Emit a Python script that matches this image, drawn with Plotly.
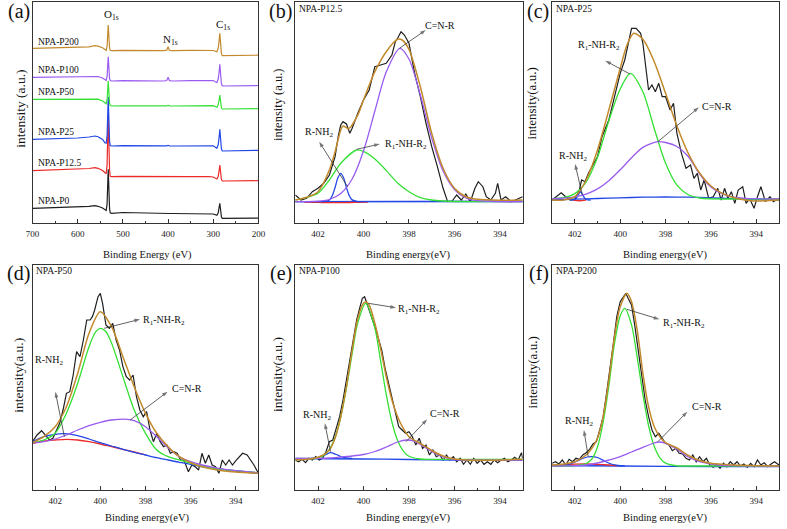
import plotly.graph_objects as go

FONT = "Liberation Serif"
W, H = 787, 529
BLACK = "#1e1e1e"
BROWN = "#c28a2c"
GREEN = "#34e034"
PURPLE = "#9a5cf0"
BLUE = "#2348e6"
RED = "#ec2a2a"
AXC = "#333333"

# ---------------- (a) survey spectra ----------------
survey_be = [700, 650, 600, 575, 562, 555, 545, 540, 537, 535, 533.5, 532.5, 531.5, 530.5, 529.5,
             528, 525, 500, 450, 410, 403, 400, 397, 390, 350, 310, 300, 292, 289, 287, 285.5,
             284.5, 283.5, 282, 280, 275, 250, 200]
survey_p200 = [174.7, 175.2, 175.7, 176.2, 177.3, 176.8, 175.2, 173.0, 172.5, 176.8, 188.0, 198.0, 190.3,
               180.0, 174.9, 172.8, 172.3, 172.6, 172.3, 172.3, 172.8, 176.3, 172.6, 172.3, 172.6, 173.0,
               172.5, 171.3, 175.0, 182.3, 189.7, 184.1, 175.1, 169.5, 167.3, 167.3, 167.3, 167.8]
survey_p100 = [145.7, 146.0, 146.3, 146.6, 147.0, 146.5, 145.0, 143.0, 142.5, 146.5, 157.0, 166.3, 159.0,
               149.3, 144.4, 142.5, 142.0, 142.3, 142.0, 142.0, 142.5, 145.7, 142.3, 142.0, 142.3, 143.0,
               142.5, 140.3, 144.0, 151.3, 158.7, 153.3, 144.6, 139.2, 137.0, 137.0, 137.0, 137.5]
survey_p50 = [123.7, 123.9, 124.0, 124.2, 124.3, 123.8, 122.0, 119.7, 119.3, 123.0, 133.1, 142.0, 134.5,
              124.5, 119.5, 117.5, 117.0, 117.2, 117.0, 117.0, 117.2, 117.7, 117.1, 117.0, 117.2, 117.7,
              117.3, 115.7, 118.2, 123.0, 128.0, 124.5, 118.9, 115.4, 114.0, 114.0, 114.0, 114.3]
survey_p25 = [83.7, 84.3, 85.0, 86.0, 87.0, 86.3, 83.5, 80.3, 79.8, 87.2, 107.9, 126.3, 111.5,
              91.8, 81.9, 77.5, 77.0, 77.3, 77.0, 77.0, 77.2, 77.7, 77.1, 77.0, 77.2, 77.7,
              77.2, 74.7, 78.5, 86.1, 93.7, 88.3, 79.6, 74.2, 72.0, 72.0, 72.0, 72.7]
survey_p12 = [52.3, 53.0, 53.8, 54.5, 55.3, 54.7, 52.5, 49.7, 49.2, 58.4, 84.7, 108.0, 89.5,
              64.8, 52.5, 46.8, 46.3, 46.6, 46.3, 46.3, 46.5, 46.7, 46.4, 46.3, 46.4, 46.3,
              46.0, 44.0, 46.8, 52.4, 58.0, 54.0, 47.6, 43.6, 42.0, 42.0, 42.0, 42.3]
survey_p0 = [14.7, 15.3, 16.0, 16.7, 17.3, 16.7, 15.0, 13.0, 12.6, 19.1, 37.4, 53.7, 40.5,
             22.9, 14.1, 10.2, 9.7, 10.5, 9.7, 9.5, 9.5, 9.5, 9.5, 9.5, 9.4, 9.3,
             9.0, 7.7, 10.1, 15.9, 19.7, 16.0, 9.9, 6.2, 4.7, 4.7, 4.7, 4.9]
survey_names = ["NPA-P200", "NPA-P100", "NPA-P50", "NPA-P25", "NPA-P12.5", "NPA-P0"]
survey_ticks = [700, 600, 500, 400, 300, 200]

# ---------------- (b) NPA-P12.5 ----------------
b_raw_be = [403, 402.75, 402.5, 402.25, 402, 401.75, 401.5, 401.25, 401.1, 401, 400.9, 400.75, 400.6,
            400.5, 400.25, 400, 399.75, 399.6, 399.5, 399.25, 399, 398.75, 398.6, 398.5, 398.35, 398.2,
            398, 397.75, 397.5, 397.25, 397, 396.75, 396.5, 396.3, 396.1, 395.9, 395.7, 395.5, 395.3,
            395.1, 394.95, 394.75, 394.6, 394.4, 394.2, 394.1, 393.95, 393.75, 393.5, 393.25, 393]
b_raw = [28.0, 23.0, 24.7, 31.3, 34.7, 39.7, 48.0, 66.3, 88.0, 98.0, 101.3, 99.0, 89.7, 94.7, 109.7,
         123.0, 133.0, 146.3, 156.3, 158.0, 159.7, 168.0, 181.3, 184.7, 191.3, 188.0, 179.7, 149.7,
         126.3, 99.7, 76.3, 56.3, 34.7, 21.3, 22.0, 28.0, 23.0, 29.0, 21.3, 34.7, 41.3, 36.3, 26.3,
         23.0, 29.7, 39.7, 23.0, 26.3, 21.3, 23.7, 26.3]
b_env_be = [403, 402.5, 402, 401.5, 401.25, 401, 400.9, 400.65, 400.25, 400, 399.5, 399, 398.5, 398.3,
            398, 397.5, 397, 396.5, 396, 395.5, 395, 394, 393]
b_env = [23.0, 25.7, 31.3, 53.0, 71.3, 93.0, 97.0, 94.3, 108.0, 123.0, 151.3, 171.3, 183.7, 183.0,
         173.7, 136.3, 89.7, 54.7, 34.7, 26.3, 23.7, 22.7, 23.0]
b_cnr_be = [403, 402.5, 402, 401.5, 401, 400.5, 400, 399.5, 399, 398.4, 398, 397.5, 397, 396.5, 396,
            395.5, 395, 394, 393]
b_cnr = [21.3, 21.4, 21.8, 23.5, 29.5, 44.0, 72.0, 112.0, 151.0, 174.7, 164.0, 128.0, 85.0, 52.0, 33.5,
         25.0, 22.3, 21.3, 21.3]
b_nh_be = [403, 402.5, 402, 401.5, 401, 400.3, 400, 399.5, 399, 398.5, 398, 397.5, 397, 396.5, 396, 395,
           394, 393]
b_nh = [23.0, 25.5, 29.7, 43.0, 59.7, 73.0, 71.6, 64.0, 52.6, 40.0, 31.2, 25.4, 23.0, 22.0, 21.5, 21.3,
        21.3, 21.3]
b_nh2_be = [403, 402, 401.75, 401.5, 401.375, 401.25, 401.125, 401, 400.875, 400.75, 400.625, 400.5,
            400.25, 400, 393]
b_nh2 = [21.3, 21.3, 21.4, 23.1, 27.3, 35.5, 45.2, 49.7, 45.2, 35.5, 27.3, 23.1, 21.4, 21.3, 21.3]
b_red_be = [402.6, 402.2, 401.8, 401.4, 401, 400.6, 400.2, 399.8]
b_red = [21.0, 20.7, 20.5, 20.4, 20.4, 20.5, 20.7, 21.0]
b_bg_be = [403, 393]
b_bg = [21.3, 21.8]

# ---------------- (c) NPA-P25 ----------------
c_raw_be = [403, 402.75, 402.6, 402.4, 402.2, 402, 401.8, 401.7, 401.55, 401.4, 401.25, 401, 400.8,
            400.5, 400.25, 400, 399.8, 399.6, 399.5, 399.3, 399.1, 399, 398.9, 398.75, 398.6, 398.45,
            398.3, 398.15, 398, 397.8, 397.65, 397.5, 397.3, 397.1, 396.9, 396.75, 396.6, 396.45, 396.3,
            396.1, 395.9, 395.7, 395.55, 395.4, 395.25, 395.1, 394.95, 394.8, 394.6, 394.45, 394.3,
            394.1, 393.95, 393.8, 393.6, 393.4, 393.25, 393]
c_raw = [23.0, 28.0, 30.3, 26.3, 23.0, 24.0, 33.0, 43.0, 41.3, 49.7, 56.3, 66.3, 86.3, 103.0, 126.3,
         149.7, 163.0, 186.3, 194.7, 194.7, 189.7, 179.7, 163.0, 133.0, 138.0, 131.3, 139.7, 126.3,
         126.3, 113.0, 119.7, 89.7, 69.7, 54.7, 58.0, 44.7, 49.7, 33.0, 43.0, 24.7, 26.3, 34.7, 23.0,
         34.7, 24.7, 31.3, 19.7, 33.0, 36.3, 19.7, 24.7, 14.7, 26.3, 36.3, 21.3, 26.3, 21.3, 24.7]
c_env_be = [403, 402.5, 402, 401.5, 401, 400.5, 400, 399.7, 399.4, 399, 398.5, 398, 397.5, 397, 396.5,
            396, 395.5, 395, 394.5, 394, 393]
c_env = [23.0, 23.0, 26.3, 43.0, 73.0, 113.0, 154.7, 178.0, 189.7, 183.7, 161.3, 129.7, 97.0, 69.7,
         50.0, 37.0, 29.7, 25.5, 23.0, 22.0, 23.0]
c_nh_be = [403, 402.5, 402, 401.5, 401, 400.5, 400, 399.55, 399, 398.5, 398, 397.5, 397, 396.5, 396,
           395, 394, 393]
c_nh = [24.2, 25.3, 29.4, 41.1, 65.7, 102.3, 134.0, 149.7, 131.2, 94.5, 59.7, 37.9, 28.2, 25.0, 24.2,
        24.0, 24.0, 24.0]
c_cnr_be = [403, 402.5, 402, 401.5, 401, 400.5, 400, 399.5, 399, 398.35, 398, 397.5, 397, 396.5, 396,
            395.5, 395, 394.5, 394, 393]
c_cnr = [24.3, 24.8, 26.1, 28.9, 34.1, 42.3, 53.2, 65.3, 75.6, 81.3, 80.5, 76.5, 66.5, 49.0, 36.0,
         29.0, 25.8, 24.7, 24.3, 24.0]
c_nh2_be = [402.2, 402.0, 401.9, 401.8, 401.75, 401.7, 401.6, 401.5, 401.3]
c_nh2 = [23.0, 23.5, 26.0, 30.0, 31.3, 30.0, 26.0, 23.5, 23.0]
c_red_be = [402.1, 401.9, 401.7, 401.5]
c_red = [22.8, 22.3, 22.3, 22.8]
c_bg_be = [403, 402, 401, 400, 399, 398, 397, 396, 395, 394, 393]
c_bg = [23.0, 23.8, 24.5, 25.2, 25.8, 26.0, 25.8, 25.2, 24.3, 23.5, 23.0]

# ---------------- (d) NPA-P50 ----------------
d_raw_be = [403, 402.8, 402.6, 402.4, 402.25, 402.1, 401.95, 401.8, 401.65, 401.5, 401.35, 401.2,
            401.05, 400.9, 400.75, 400.6, 400.45, 400.35, 400.25, 400.1, 400, 399.9, 399.75, 399.6,
            399.45, 399.3, 399.15, 399, 398.85, 398.7, 398.55, 398.4, 398.25, 398.1, 397.95, 397.8,
            397.65, 397.5, 397.35, 397.2, 397.05, 396.9, 396.75, 396.6, 396.45, 396.3, 396.1, 395.95,
            395.8, 395.65, 395.5, 395.35, 395.2, 395.05, 394.9, 394.75, 394.6, 394.45, 394.3, 394.15,
            394, 393.85, 393.7, 393.5, 393.35, 393.2, 393]
d_raw = [48.3, 55.0, 59.3, 53.3, 50.0, 51.7, 60.0, 66.7, 80.0, 96.7, 98.3, 115.0, 138.3, 133.3, 150.0,
         170.0, 170.0, 173.3, 180.0, 193.3, 196.7, 186.7, 165.0, 161.7, 166.7, 150.0, 140.0, 123.3,
         113.3, 110.0, 115.0, 93.3, 80.0, 73.3, 78.3, 60.0, 48.3, 56.7, 48.3, 43.3, 45.0, 36.7, 38.3,
         36.7, 30.0, 30.0, 18.3, 25.0, 23.3, 20.0, 36.7, 26.7, 35.0, 25.0, 23.3, 16.7, 30.0, 25.0,
         30.0, 25.0, 29.3, 33.3, 36.7, 35.0, 30.0, 25.0, 16.7]
d_env_be = [403, 402.5, 402, 401.5, 401, 400.5, 400, 399.5, 399, 398.5, 398, 397.5, 397, 396.5, 396,
            395.5, 395, 394.5, 394, 393.5, 393]
d_env = [47.3, 53.3, 63.3, 83.3, 116.7, 156.7, 178.3, 163.3, 133.3, 103.3, 76.7, 56.7, 43.3, 33.3,
         27.3, 23.3, 20.7, 19.0, 18.0, 17.3, 16.7]
d_nh_be = [403, 402.5, 402, 401.5, 401, 400.5, 400.2, 400, 399.75, 399.5, 399, 398.5, 398, 397.5, 397,
           396.5, 396, 395.5, 395, 394, 393]
d_nh = [47.3, 50.0, 56.7, 76.7, 106.7, 143.3, 158.3, 161.7, 158.3, 146.7, 113.3, 80.0, 56.7, 40.0,
        33.3, 30.0, 26.7, 24.0, 21.7, 19.3, 17.3]
d_cnr_be = [403, 402.5, 402, 401.5, 401, 400.5, 400, 399.5, 398.8, 398.5, 398, 397.5, 397, 396.5, 396,
            395.5, 395, 394, 393]
d_cnr = [46.7, 48.3, 51.0, 55.0, 60.0, 64.3, 67.7, 70.0, 70.7, 69.3, 63.3, 53.3, 42.3, 33.3, 28.3,
         25.0, 22.7, 19.3, 17.3]
d_nh2_be = [403, 402.5, 402, 401.6, 401, 400.5, 400, 399.5, 399, 398.5, 398, 397.5, 397, 396.5, 396,
            395.5, 395, 394.5, 394, 393.5, 393]
d_nh2 = [48.3, 53.3, 55.7, 56.3, 54.3, 51.0, 47.3, 44.0, 40.7, 37.7, 35.0, 32.3, 30.0, 27.7, 25.7,
         23.3, 21.7, 20.3, 19.0, 18.0, 16.7]
d_red_be = [403, 402.5, 402, 401.5, 401, 400.5, 400, 399.5, 399, 398.5, 398]
d_red = [46.7, 49.0, 50.0, 50.7, 50.0, 48.3, 46.0, 43.3, 40.7, 38.0, 35.2]

# ---------------- (e) NPA-P100 ----------------
e_raw_be = [403, 402.85, 402.7, 402.55, 402.4, 402.25, 402.1, 401.95, 401.8, 401.65, 401.5, 401.35,
            401.2, 401.05, 400.9, 400.75, 400.6, 400.45, 400.3, 400.15, 400.05, 399.95, 399.8, 399.65,
            399.5, 399.35, 399.2, 399.05, 398.9, 398.75, 398.6, 398.45, 398.3, 398.15, 398, 397.85,
            397.7, 397.55, 397.4, 397.25, 397.1, 396.95, 396.8, 396.65, 396.5, 396.35, 396.2, 396.05,
            395.9, 395.75, 395.6, 395.45, 395.3, 395.15, 395, 394.85, 394.7, 394.55, 394.4, 394.25,
            394.1, 393.95, 393.8, 393.65, 393.5, 393.35, 393.2, 393.05, 393]
e_raw = [30.0, 28.3, 30.7, 27.3, 31.7, 30.0, 33.3, 30.0, 31.7, 38.3, 48.3, 50.0, 61.7, 73.3, 90.0,
         110.0, 133.3, 153.3, 170.0, 183.3, 191.7, 193.3, 183.3, 175.0, 163.3, 151.7, 140.0, 121.7,
         106.7, 90.0, 76.7, 63.3, 60.0, 56.7, 58.3, 53.3, 45.0, 51.7, 41.7, 45.0, 35.0, 40.0, 33.3,
         35.0, 30.0, 35.0, 30.0, 33.3, 28.3, 31.7, 25.7, 30.0, 25.7, 31.7, 26.7, 30.0, 25.7, 28.3,
         25.7, 30.0, 27.3, 30.0, 31.7, 28.3, 30.0, 32.7, 30.0, 37.3, 31.7]
e_env_be = [403, 402.5, 402, 401.5, 401.25, 401, 400.75, 400.5, 400.25, 400, 399.9, 399.75, 399.5,
            399.25, 399, 398.75, 398.5, 398.25, 398, 397.5, 397, 396.5, 396, 395.5, 395, 393]
e_env = [30.0, 30.7, 32.7, 40.0, 51.7, 73.3, 103.3, 140.0, 171.7, 186.7, 188.3, 185.0, 166.7, 141.7,
         113.3, 90.0, 73.3, 61.7, 53.3, 46.5, 39.5, 34.0, 31.0, 30.0, 29.7, 30.7]
e_nh_be = [403, 402, 401.75, 401.5, 401.25, 401, 400.75, 400.5, 400.25, 399.9, 399.5, 399.25, 399,
           398.75, 398.5, 398.25, 398, 397.5, 397, 393]
e_nh = [30.7, 32.0, 34.5, 40.5, 52.4, 72.8, 102.0, 136.3, 167.4, 186.7, 161.9, 129.4, 95.6, 68.0,
        49.4, 38.9, 33.8, 31.0, 30.7, 30.7]
e_cnr_be = [403, 402, 401.5, 401, 400.5, 400, 399.5, 399, 398.5, 398.1, 397.75, 397.5, 397, 396.5,
            396, 395.5, 393]
e_cnr = [31.5, 31.7, 32.0, 33.0, 34.0, 35.5, 38.5, 43.0, 48.0, 50.0, 48.7, 45.5, 38.5, 33.0, 30.5,
         30.0, 30.0]
e_nh2_be = [402.3, 402, 401.75, 401.45, 401.2, 401, 400.75, 400.5]
e_nh2 = [31.5, 32.2, 34.5, 37.3, 35.5, 33.5, 32.0, 31.5]
e_bg_be = [403, 400, 398, 396, 393]
e_bg = [31.5, 31.0, 30.5, 30.0, 30.0]

# ---------------- (f) NPA-P200 ----------------
f_raw_be = [403, 402.85, 402.7, 402.55, 402.4, 402.25, 402.1, 401.95, 401.8, 401.65, 401.5, 401.35,
            401.2, 401.05, 400.9, 400.75, 400.6, 400.45, 400.3, 400.15, 400, 399.85, 399.75, 399.65,
            399.5, 399.35, 399.2, 399.05, 398.9, 398.75, 398.6, 398.45, 398.3, 398.15, 398, 397.85,
            397.7, 397.55, 397.4, 397.25, 397.1, 396.95, 396.8, 396.65, 396.5, 396.35, 396.2, 396.05,
            395.9, 395.75, 395.6, 395.45, 395.3, 395.15, 395, 394.85, 394.7, 394.55, 394.4, 394.25,
            394.1, 393.95, 393.8, 393.65, 393.5, 393.35, 393.2, 393]
f_raw = [26.7, 28.3, 26.0, 30.0, 25.0, 30.7, 28.3, 31.7, 30.7, 35.0, 37.3, 40.7, 46.0, 48.3, 60.0,
         73.3, 96.7, 120.0, 146.7, 173.3, 188.3, 193.3, 196.7, 191.7, 185.0, 163.3, 140.0, 115.0,
         90.0, 73.3, 60.0, 53.3, 56.7, 51.7, 46.7, 45.0, 39.3, 41.7, 36.7, 36.0, 31.7, 30.0, 35.0,
         28.3, 33.3, 28.3, 31.7, 25.0, 22.7, 25.7, 21.7, 26.7, 23.3, 28.3, 25.0, 28.3, 24.0, 26.0,
         22.7, 26.7, 23.3, 30.0, 25.0, 27.3, 23.3, 26.0, 28.3, 25.0]
f_env_be = [403, 402.5, 402, 401.5, 401.25, 401, 400.75, 400.5, 400.25, 400, 399.7, 399.5, 399.25,
            399, 398.75, 398.5, 398.25, 398, 397.5, 397, 396.5, 396, 395, 394, 393]
f_env = [25.0, 26.0, 28.3, 35.0, 41.7, 51.7, 73.3, 110.0, 153.3, 183.3, 196.7, 188.3, 160.0, 116.7,
         83.3, 63.3, 53.3, 47.3, 42.0, 34.5, 29.5, 26.7, 25.0, 24.3, 24.0]
f_nh_be = [403, 402, 401.5, 401.25, 401, 400.75, 400.5, 400.25, 400, 399.8, 399.5, 399.25, 399,
           398.75, 398.5, 398.25, 398, 397.5, 397, 393]
f_nh = [24.0, 24.4, 26.5, 31.0, 43.0, 68.0, 104.0, 146.8, 174.1, 181.7, 165.1, 132.7, 95.8, 64.5,
        43.7, 32.2, 26.9, 24.2, 24.0, 24.0]
f_cnr_be = [403, 402, 401.5, 401, 400.5, 400, 399.5, 399, 398.5, 398.3, 398, 397.5, 397, 396.5, 396,
            395.5, 395, 393]
f_cnr = [24.0, 24.3, 25.0, 27.0, 30.0, 33.3, 38.0, 42.7, 47.0, 48.0, 46.7, 40.7, 33.0, 28.3, 26.0,
         24.7, 24.3, 24.0]
f_nh2_be = [402.6, 402.2, 401.9, 401.6, 401.3, 401, 400.7, 400.4, 400.1, 399.8]
f_nh2 = [24.5, 26.0, 29.0, 32.0, 33.3, 32.5, 29.0, 26.0, 24.5, 24.0]
f_red_be = [403, 402.5, 402, 401.5, 401, 400.5, 400.1]
f_red = [24.5, 25.3, 25.8, 26.0, 25.6, 25.0, 24.3]
f_bg_be = [403, 400, 396, 393]
f_bg = [24.5, 24.0, 23.5, 23.5]

n1s_ticks = [402, 400, 398, 396, 394]

# ---------------- figure ----------------
fig = go.Figure()


def ax_names(i):
    return ("x" if i == 1 else f"x{i}"), ("y" if i == 1 else f"y{i}")


def add_line(i, x, y, color, spline=False, width=1.3):
    xa, ya = ax_names(i)
    fig.add_trace(go.Scatter(
        x=x, y=y, mode="lines", xaxis=xa, yaxis=ya, showlegend=False, hoverinfo="skip",
        line=dict(color=color, width=width, shape="spline" if spline else "linear", smoothing=0.8)))


# survey
for vals, col in [(survey_p0, BLACK), (survey_p12, RED), (survey_p25, BLUE),
                  (survey_p50, GREEN), (survey_p100, PURPLE), (survey_p200, BROWN)]:
    add_line(1, survey_be, vals, col, width=1.2)

panels = [
    (2, b_raw_be, b_raw, [(b_bg_be, b_bg, BLUE), (b_red_be, b_red, RED), (b_nh2_be, b_nh2, BLUE),
                          (b_nh_be, b_nh, GREEN), (b_cnr_be, b_cnr, PURPLE)], b_env_be, b_env),
    (3, c_raw_be, c_raw, [(c_bg_be, c_bg, BLUE), (c_red_be, c_red, RED), (c_nh2_be, c_nh2, BLUE),
                          (c_nh_be, c_nh, GREEN), (c_cnr_be, c_cnr, PURPLE)], c_env_be, c_env),
    (4, d_raw_be, d_raw, [(d_red_be, d_red, RED), (d_nh2_be, d_nh2, BLUE),
                          (d_nh_be, d_nh, GREEN), (d_cnr_be, d_cnr, PURPLE)], d_env_be, d_env),
    (5, e_raw_be, e_raw, [(e_bg_be, e_bg, BLUE), (e_nh2_be, e_nh2, BLUE),
                          (e_nh_be, e_nh, GREEN), (e_cnr_be, e_cnr, PURPLE)], e_env_be, e_env),
    (6, f_raw_be, f_raw, [(f_bg_be, f_bg, BLUE), (f_red_be, f_red, RED), (f_nh2_be, f_nh2, BLUE),
                          (f_nh_be, f_nh, GREEN), (f_cnr_be, f_cnr, PURPLE)], f_env_be, f_env),
]
for i, rx, ry, comps, ex, ey in panels:
    add_line(i, rx, ry, BLACK, width=1.2)
    for cx, cy, col in comps:
        add_line(i, cx, cy, col, spline=True, width=1.3)
    add_line(i, ex, ey, BROWN, spline=True, width=1.5)

NH2 = "R-NH<sub>2</sub>"
NHR = "R<sub>1</sub>-NH-R<sub>2</sub>"
CNR = "C=N-R"
# (axis, label, label_x, label_y, head_x, head_y, tail_x, tail_y)
labels = [
    (2, CNR, 396.62, 198.0, 397.26, 193.0, 398.42, 174.7),
    (2, NH2, 401.95, 90.5, 401.95, 81.3, 400.7, 36.3),
    (2, NHR, 398.15, 79.0, 399.28, 79.0, 400.3, 73.7),
    (3, NHR, 400.95, 178.0, 400.66, 162.3, 399.57, 149.0),
    (3, CNR, 395.74, 117.0, 396.53, 115.7, 398.34, 81.3),
    (3, NH2, 402.1, 66.3, 401.99, 59.0, 401.67, 28.0),
    (4, NHR, 397.16, 170.0, 398.24, 170.7, 399.83, 161.7),
    (4, CNR, 396.16, 101.7, 397.02, 98.3, 398.68, 70.0),
    (4, NH2, 402.28, 130.0, 401.99, 98.3, 401.59, 53.3),
    (5, NHR, 397.56, 180.7, 398.57, 182.3, 399.79, 186.7),
    (5, CNR, 396.4, 76.7, 397.2, 70.7, 398.13, 48.3),
    (5, NH2, 402.03, 75.0, 401.7, 66.7, 401.45, 38.3),
    (6, NHR, 397.18, 166.7, 398.27, 170.7, 399.71, 180.7),
    (6, CNR, 396.17, 83.3, 397.04, 78.3, 398.34, 48.3),
    (6, NH2, 401.81, 68.3, 401.6, 60.0, 401.41, 33.3),
]
# arrows drawn as thin lines with an arrow marker at the head end
for i, txt, lx, ly, hx, hy, tx, ty in labels:
    xa, ya = ax_names(i)
    fig.add_trace(go.Scatter(
        x=[tx, hx], y=[ty, hy], mode="lines+markers", xaxis=xa, yaxis=ya, showlegend=False,
        hoverinfo="skip", line=dict(color="#3a3a3a", width=0.8),
        marker=dict(symbol="arrow", size=[0, 6], angleref="previous", color="#3a3a3a",
                    line=dict(width=0))))

# layout geometry (pixels)
cols = [(26, 256), (293.5, 525), (555, 786)]
rows = [(2, 223), (265, 490)]


def xd(c):
    return [c[0] / W, c[1] / W]


def yd(r):
    return [1 - r[1] / H, 1 - r[0] / H]


layout = dict(width=W, height=H, margin=dict(l=0, r=0, t=0, b=0),
              paper_bgcolor="white", plot_bgcolor="white", showlegend=False)

tickfont = dict(family=FONT, size=9, color="#222")
for i in range(1, 7):
    r = 0 if i <= 3 else 1
    c = (i - 1) % 3
    xk = "xaxis" if i == 1 else f"xaxis{i}"
    yk = "yaxis" if i == 1 else f"yaxis{i}"
    xa, ya = ax_names(i)
    if i == 1:
        rng, tv, mdt = [700, 200], survey_ticks, 50
    else:
        rng, tv, mdt = [403, 393], n1s_ticks, 1
    layout[xk] = dict(domain=xd(cols[c]), anchor=ya, range=rng, tickvals=tv, ticks="inside",
                      ticklen=4, tickwidth=1, tickcolor=AXC, showline=True, mirror=True,
                      linecolor=AXC, linewidth=1, showgrid=False, zeroline=False, tickfont=tickfont,
                      ticklabelstandoff=2,
                      minor=dict(ticks="inside", ticklen=2, tickcolor=AXC, dtick=mdt, tick0=0,
                                 showgrid=False))
    layout[yk] = dict(domain=yd(rows[r]), anchor=xa, range=[0, 221] if r == 0 else [0, 225],
                      showticklabels=False, ticks="", showline=True, mirror=True, linecolor=AXC,
                      linewidth=1, showgrid=False, zeroline=False)

ann = []


def ptxt(xp, yp, text, size, xanchor="center", angle=0):
    ann.append(dict(x=xp / W, y=1 - yp / H, xref="paper", yref="paper", text=text, showarrow=False,
                    xanchor=xanchor, yanchor="middle", textangle=angle,
                    font=dict(family=FONT, size=size, color="#111")))


# panel letters
for txt, xr, yc in [("(a)", 25, 12), ("(b)", 292.5, 12), ("(c)", 554, 12),
                    ("(d)", 25, 273), ("(e)", 292.5, 273), ("(f)", 554, 273)]:
    ann.append(dict(x=xr / W, y=1 - yc / H, xref="paper", yref="paper", text=txt, showarrow=False,
                    xanchor="right", yanchor="middle", font=dict(family=FONT, size=20, color="#111")))

# x titles
for xc, yc, txt in [(143, 255, "Binding Energy (eV)"), (409, 255, "Binding energy(eV)"),
                    (670, 255, "Binding energy(eV)"), (143, 518, "Binding energy(eV)"),
                    (409, 518, "Binding energy(eV)"), (670, 518, "Binding energy(eV)")]:
    ptxt(xc, yc, txt, 10.5)
# y titles
for xc, yc, txt, sz in [(14, 109, "intensity (a.u.)", 13.5), (276, 105, "intensity (a.u.)", 12.5),
                        (535, 103, "intensity(a.u.)", 13), (11, 375, "intensity(a.u.)", 13.5),
                        (275, 375, "intensity(a.u.)", 13.5), (535, 372, "intensity(a.u.)", 13)]:
    ptxt(xc, yc, txt, sz, angle=-90)

# sample names in N1s panels
for xl, yc, txt in [(295, 8.5, "NPA-P12.5"), (556.5, 9, "NPA-P25"), (27.5, 271, "NPA-P50"),
                    (295, 271, "NPA-P100"), (556.5, 271, "NPA-P200")]:
    ptxt(xl, yc, txt, 9.5, xanchor="left")

# survey labels (data coords on axis 1)
for name, yv in zip(survey_names, [181.3, 153.0, 131.3, 91.3, 60.3, 22.0]):
    ann.append(dict(x=693, y=yv, xref="x", yref="y", text=name, showarrow=False, xanchor="left",
                    yanchor="middle", font=dict(family=FONT, size=9.5, color="#111")))
for txt, xv, yv in [("O<sub>1s</sub>", 525, 208), ("N<sub>1s</sub>", 394, 183),
                    ("C<sub>1s</sub>", 278, 198)]:
    ann.append(dict(x=xv, y=yv, xref="x", yref="y", text=txt, showarrow=False, xanchor="center",
                    yanchor="middle", font=dict(family=FONT, size=11, color="#111")))

for i, txt, lx, ly, hx, hy, tx, ty in labels:
    xa, ya = ax_names(i)
    ann.append(dict(x=lx, y=ly, xref=xa, yref=ya, text=txt, showarrow=False, xanchor="center",
                    yanchor="middle", font=dict(family=FONT, size=10, color="#111")))

layout["annotations"] = ann
fig.update_layout(**layout)
fig.write_html("out.html", config={"displayModeBar": False},
               post_script="document.body.style.margin='0';document.body.style.overflow='hidden';")
